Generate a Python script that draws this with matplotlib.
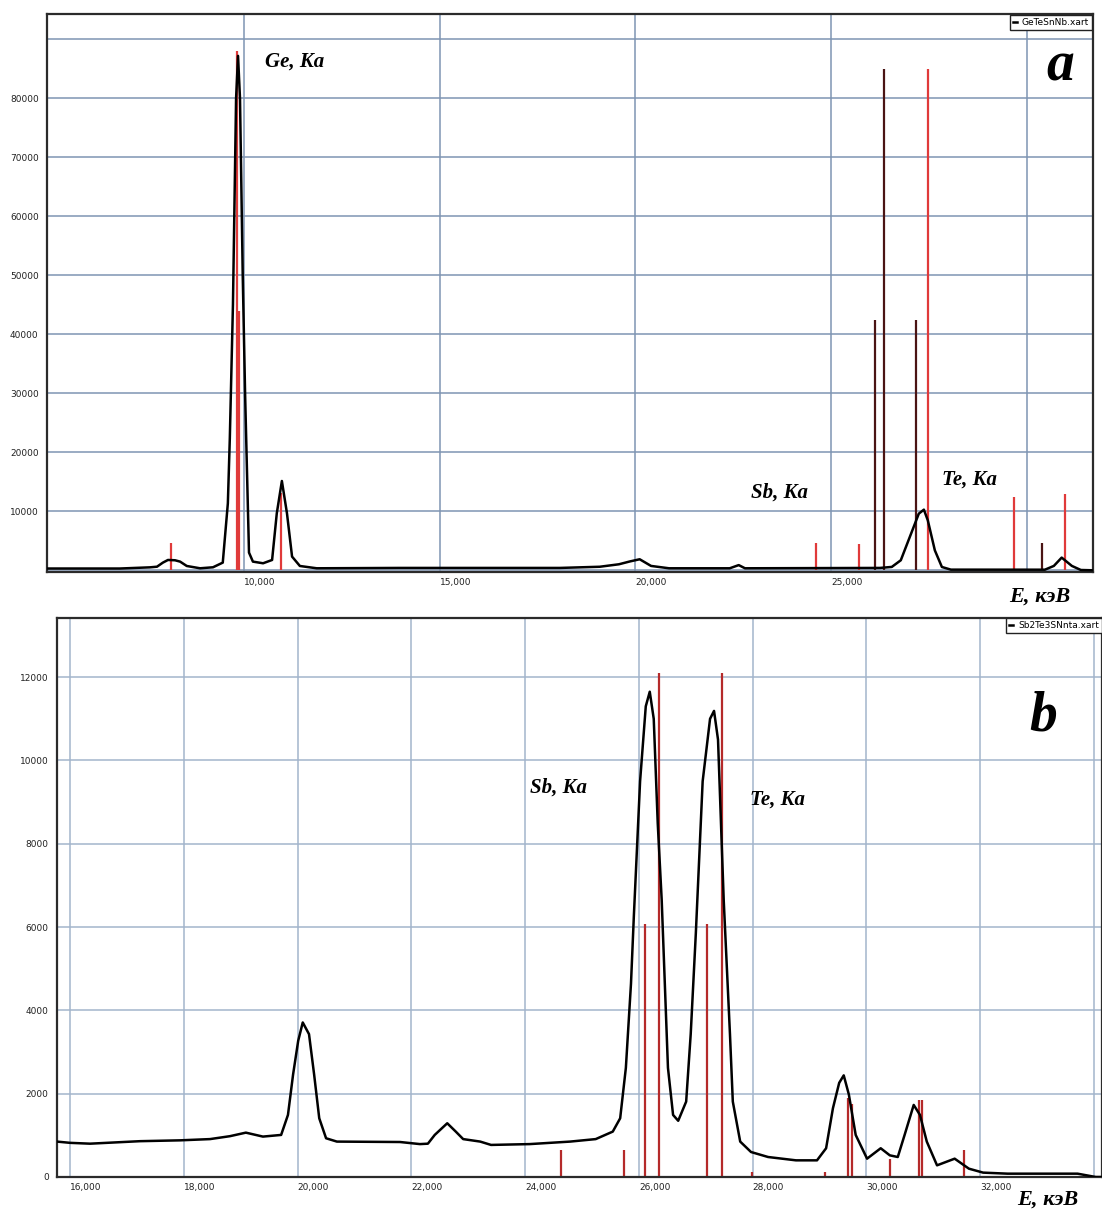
import matplotlib.pyplot as plt

# ---- panel a: GeTeSnNb spectrum ----
a_energy = [4.97, 6.83, 7.60, 7.78, 7.93, 8.06, 8.24, 8.37, 8.54, 8.88, 9.21, 9.46, 9.59, 9.64,
            9.72, 9.80, 9.85, 9.90, 9.97, 10.03, 10.08, 10.13, 10.23, 10.49, 10.72, 10.84, 10.97,
            11.10, 11.23, 11.43, 11.86, 13.98, 18.07, 19.09, 19.58, 19.86, 20.11, 20.40, 20.86,
            22.41, 22.64, 22.80, 26.25, 26.55, 26.78, 27.01, 27.24, 27.37, 27.47, 27.65, 27.83,
            28.06, 30.46, 30.69, 30.89, 31.15, 31.38, 31.69]
a_counts = [300, 300, 500, 610, 1300, 1750, 1700, 1470, 730, 340, 510, 1300, 11360, 22380,
            45000, 80000, 87200, 80000, 50000, 30000, 16440, 3000, 1470, 1190, 1750, 9660, 15140,
            9660, 2320, 730, 340, 400, 400, 600, 1020, 1500, 1870, 740, 340,
            340, 880, 340, 400, 570, 1700, 5650, 9600, 10280, 8470, 3380, 560,
            110, 100, 740, 2150, 740, 50, 0]

a_red_lines_e = [8.14, 9.82, 9.87, 10.95, 24.61, 25.71, 27.47, 29.67, 30.97]
a_red_lines_h = [4580, 88000, 44000, 13050, 4570, 4460, 85000, 12480, 12880]
a_dark_lines_e = [26.12, 26.35, 27.16, 30.38]
a_dark_lines_h = [42400, 85000, 42400, 4570]

a_xticks = [10, 15, 20, 25, 30]
a_xlabels = ['10,000', '15,000', '20,000', '25,000', '']
a_yticks = [0, 10000, 20000, 30000, 40000, 50000, 60000, 70000, 80000, 90000]
a_ylabels = ['', '10000', '20000', '30000', '40000', '50000', '60000', '70000', '80000', '']

# ---- panel b: Sb2Te3 spectrum ----
b_energy = [15.77, 16.00, 16.35, 17.23, 17.93, 18.46, 18.81, 19.09, 19.39, 19.71, 19.83, 19.92,
            20.01, 20.09, 20.20, 20.29, 20.38, 20.50, 20.69, 21.80, 22.15, 22.29, 22.41, 22.63,
            22.78, 22.91, 23.21, 23.40, 24.08, 24.79, 25.24, 25.54, 25.67, 25.77, 25.86, 25.91,
            26.02, 26.12, 26.19, 26.26, 26.33, 26.40, 26.51, 26.60, 26.69, 26.83, 26.91, 27.00,
            27.12, 27.25, 27.32, 27.39, 27.49, 27.60, 27.65, 27.78, 27.97, 28.27, 28.76, 29.13,
            29.29, 29.41, 29.52, 29.60, 29.69, 29.81, 30.01, 30.25, 30.41, 30.55, 30.67, 30.83,
            30.94, 31.06, 31.24, 31.55, 31.80, 32.05, 32.48, 33.71, 34.03, 34.14]
b_counts = [850, 820, 800, 860, 880, 910, 980, 1065, 970, 1010, 1490, 2460,
            3270, 3710, 3430, 2460, 1410, 930, 850, 840, 790, 800, 1010, 1290,
            1090, 910, 850, 770, 790, 850, 910, 1090, 1410, 2620, 4640, 6250,
            9500, 11300, 11650, 11000, 8500, 6650, 2620, 1490, 1350, 1810, 3430, 5850,
            9500, 11000, 11190, 10500, 6650, 3430, 1810, 850, 600, 480, 400, 400,
            690, 1650, 2260, 2440, 1980, 1010, 440, 690, 520, 480, 1010, 1730,
            1490, 850, 280, 440, 200, 105, 80, 80, 0, 0]

b_lines_e = [24.63, 25.74, 26.11, 26.35, 27.19, 27.46, 27.99, 29.27, 29.67, 29.74,
             30.41, 30.92, 30.97, 31.71]
b_lines_h = [645, 645, 6070, 12100, 6070, 12100, 120, 120, 1900, 1750,
             440, 1850, 1850, 645]

b_xticks = [16, 18, 20, 22, 24, 26, 28, 30, 32, 34]
b_xlabels = ['16,000', '18,000', '20,000', '22,000', '24,000', '26,000', '28,000',
             '30,000', '32,000', '']
b_yticks = [0, 2000, 4000, 6000, 8000, 10000, 12000]
b_ylabels = ['0', '2000', '4000', '6000', '8000', '10000', '12000']

W, H = 1102, 1213
fig = plt.figure(figsize=(W / 100, H / 100), dpi=100)

# axes boxes from pixel edges (left, right, top, bottom)
def px_axes(l, r, t, b):
    return fig.add_axes([l / W, 1 - b / H, (r - l) / W, (b - t) / H])

ax_a = px_axes(47, 1093, 14, 572)
ax_b = px_axes(57, 1102, 618, 1177)

label_font = dict(family='Liberation Serif', weight='bold', style='italic')


def style(ax, xlim, ylim, xticks, xlabels, yticks, ylabels, grid_color):
    ax.set_xlim(*xlim)
    ax.set_ylim(*ylim)
    ax.set_xticks(xticks)
    ax.set_xticklabels(xlabels, ha='left')
    ax.set_yticks(yticks)
    ax.set_yticklabels(ylabels)
    ax.tick_params(length=0, labelsize=6.5, colors='#222222')
    ax.tick_params(axis='x', pad=4)
    ax.tick_params(axis='y', pad=6)
    ax.grid(True, color=grid_color, lw=1.1)
    ax.set_axisbelow(True)
    for sp in ax.spines.values():
        sp.set_color('#2b2b2b')
        sp.set_linewidth(1.6)


def add_legend(ax, pad):
    ax.legend(loc='upper right', fontsize=6.5, frameon=True, fancybox=False, edgecolor='#222222',
              handlelength=0.5, borderaxespad=pad, borderpad=0.35, handletextpad=0.5,
              framealpha=1)


# panel a
style(ax_a, (4.97, 31.69), (-290, 94300), a_xticks, a_xlabels, a_yticks, a_ylabels, '#7f95b3')
ax_a.vlines(a_red_lines_e, 0, a_red_lines_h, color='#e03a3a', lw=1.6, zorder=2)
ax_a.vlines(a_dark_lines_e, 0, a_dark_lines_h, color='#4a1414', lw=1.6, zorder=2)
ax_a.plot(a_energy, a_counts, color='black', lw=1.8, zorder=3, label='GeTeSnNb.xart')
add_legend(ax_a, 0.1)
ax_a.text(10.54, 86150, 'Ge, Ka', fontsize=15, va='center', ha='left', **label_font)
ax_a.text(22.95, 13100, 'Sb, Ka', fontsize=15, va='center', ha='left', **label_font)
ax_a.text(27.83, 15300, 'Te, Ka', fontsize=15, va='center', ha='left', **label_font)
ax_a.text(30.84, 83100, 'a', fontsize=40, va='baseline', ha='center', **label_font)
fig.text(1040 / W, 1 - 597 / H, 'E, кэВ', fontsize=16, ha='center', va='center', **label_font)

# panel b
style(ax_b, (15.77, 34.14), (0, 13420), b_xticks, b_xlabels, b_yticks, b_ylabels, '#a3b5cc')
ax_b.vlines(b_lines_e, 0, b_lines_h, color='#b52a2a', lw=1.6, zorder=2)
ax_b.plot(b_energy, b_counts, color='black', lw=1.8, zorder=3, label='Sb2Te3SNnta.xart')
add_legend(ax_b, 0.0)
ax_b.text(24.08, 9340, 'Sb, Ka', fontsize=15, va='center', ha='left', **label_font)
ax_b.text(27.95, 9050, 'Te, Ka', fontsize=15, va='center', ha='left', **label_font)
ax_b.text(33.10, 10730, 'b', fontsize=40, va='baseline', ha='center', **label_font)
fig.text(1048 / W, 1 - 1200 / H, 'E, кэВ', fontsize=16, ha='center', va='center', **label_font)

fig.savefig('out.png', dpi=100)
